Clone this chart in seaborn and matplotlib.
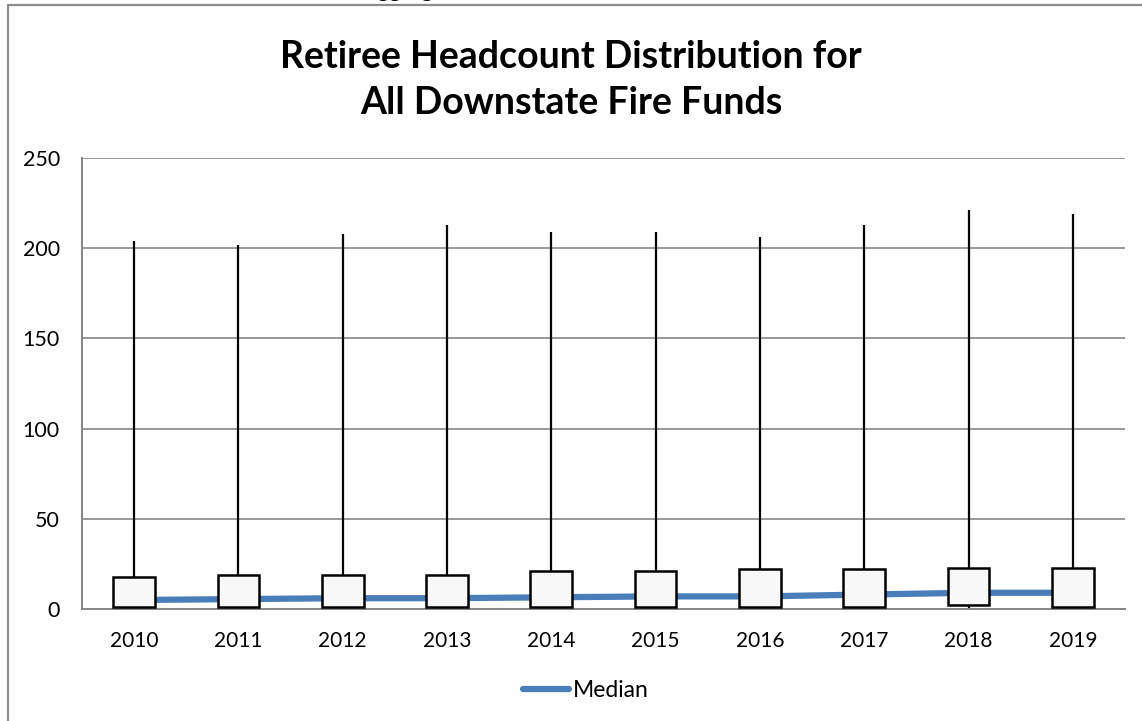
import numpy as np
import pandas as pd
import matplotlib
matplotlib.use("Agg")
import matplotlib.pyplot as plt
import seaborn as sns
from matplotlib.lines import Line2D

years = ["2010", "2011", "2012", "2013", "2014", "2015", "2016", "2017", "2018", "2019"]
high = [204, 202, 208, 213, 209, 209, 206, 213, 221, 219]
low = [0, 0, 0, 0, 0, 0, 0, 0, 0, 0]
box_top = [18, 19, 19, 19, 21, 21, 22, 22, 23, 23]
box_bottom = [1, 1, 1, 1, 1, 1, 1, 1, 2, 1]
median = [5, 5.5, 6, 6, 6.5, 7, 7, 8, 9, 9]

sns.set_style("white")
plt.rcParams["font.family"] = ["Lato", "DejaVu Sans"]
plt.rcParams["text.color"] = "black"
plt.rcParams["xtick.labelcolor"] = "black"
plt.rcParams["ytick.labelcolor"] = "black"

df = pd.DataFrame({"year": years, "high": high, "low": low,
                   "top": box_top, "bottom": box_bottom, "median": median})
df["pos"] = np.arange(len(df))
df["height"] = df["top"] - df["bottom"]

fig = plt.figure(figsize=(11.42, 7.21), dpi=100)
ax = fig.add_axes([0.0718, 0.1553, 0.9133, 0.6256])

grid_c = "#868686"
for v in [50, 100, 150, 200, 250]:
    ax.axhline(v, color=grid_c, lw=1.2, zorder=0)

# high-low lines
ax.vlines(df["pos"], df["low"], df["high"], color="black", lw=1.6, zorder=2)

# median line
sns.lineplot(data=df, x="pos", y="median", color="#4a7ebb", lw=4.5,
             ax=ax, zorder=3, label="Median")

# open-close boxes
sns.barplot(data=df, x="pos", y="height", bottom=df["bottom"].values,
            color="#f8f8f8", edgecolor="black", linewidth=1.8, width=0.4,
            saturation=1, errorbar=None, ax=ax, zorder=4, native_scale=True)

ax.set_xlim(-0.5, len(years) - 0.5)
ax.set_ylim(0, 250)
ax.set_yticks([0, 50, 100, 150, 200, 250])
ax.set_xticks(df["pos"])
ax.set_xticklabels(years)
ax.set_xticks(np.arange(-0.5, len(years)), minor=True)
ax.tick_params(axis="x", which="major", length=0, labelsize=15, pad=16)
ax.tick_params(axis="x", which="minor", length=7, color=grid_c, width=1.2)
ax.tick_params(axis="y", length=8, color=grid_c, width=1.2, labelsize=15.5, pad=8)
ax.set_xlabel("")
ax.set_ylabel("")

for s in ["top", "right"]:
    ax.spines[s].set_visible(False)
for s in ["left", "bottom"]:
    ax.spines[s].set_color(grid_c)
    ax.spines[s].set_linewidth(1.4)

leg = ax.legend(loc="center", bbox_to_anchor=(0.483, -0.18), frameon=False,
                fontsize=16.5, handlelength=2.0, handletextpad=0.15)

fig.text(0.5, 0.889, "Retiree Headcount Distribution for\nAll Downstate Fire Funds",
         ha="center", va="center", fontsize=27, fontweight="bold", linespacing=1.46)

# clipped text remnant above the chart
fig.text(362 / 1142, 1.004, "Aggregate", ha="left", va="baseline",
         fontsize=16, fontweight="bold")

# chart border
fig.add_artist(Line2D([8 / 1142, 8 / 1142], [0, 1 - 5 / 721], color="#8c8c8c", lw=1.6))
fig.add_artist(Line2D([8 / 1142, 1], [1 - 5 / 721, 1 - 5 / 721], color="#8c8c8c", lw=1.6))

fig.savefig("out.png", dpi=100)
